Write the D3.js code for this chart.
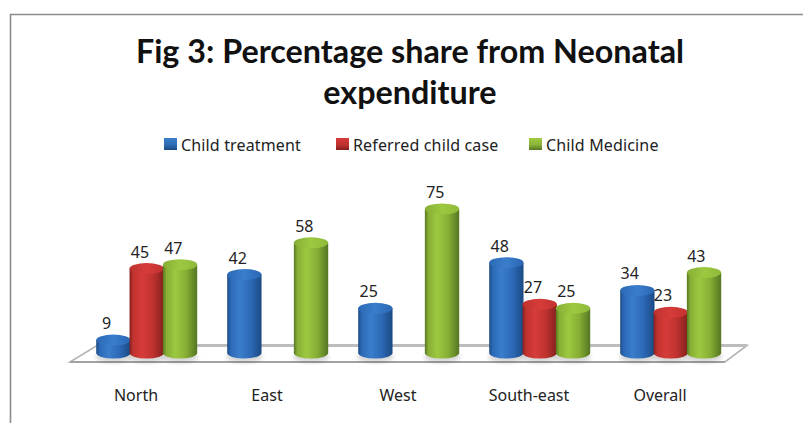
<!DOCTYPE html>
<html>
<head>
<meta charset="utf-8">
<script src="https://cdn.jsdelivr.net/npm/d3@7/dist/d3.min.js"></script>
<style>
html,body{margin:0;padding:0;background:#fff;}
svg{display:block;}
</style>
</head>
<body>
<svg id="chart" width="803" height="423"></svg>
<script>
const categories = ["North", "East", "West", "South-east", "Overall"];
const seriesNames = ["Child treatment", "Referred child case", "Child Medicine"];
const childTreatment = [9, 42, 25, 48, 34];
const referredChildCase = [45, null, null, 27, 23];
const childMedicine = [47, 58, 75, 25, 43];
const titleLines = ["Fig 3: Percentage share from Neonatal", "expenditure"];

const seriesValues = [childTreatment, referredChildCase, childMedicine];
const palette = [
  {dark:"#1b4a84", mid:"#3a7ecb", light:"#2c69b6", top:"#2a66b4", key:"#2e6db4"},
  {dark:"#84201e", mid:"#d63c39", light:"#bf322f", top:"#c2312f", key:"#c0322f"},
  {dark:"#557622", mid:"#9cc940", light:"#87ae35", top:"#8fb93a", key:"#8db53a"}
];

const svg = d3.select("#chart");
const defs = svg.append("defs");

palette.forEach((c, i) => {
  const body = defs.append("linearGradient").attr("id", "body" + i);
  [[0, c.dark], [0.1, c.light], [0.36, c.mid], [0.68, c.light], [1, c.dark]].forEach(([o, col]) =>
    body.append("stop").attr("offset", o).attr("stop-color", col));
  const lid = defs.append("linearGradient").attr("id", "lid" + i);
  [[0, c.light], [0.5, c.mid], [1, c.top]].forEach(([o, col]) =>
    lid.append("stop").attr("offset", o).attr("stop-color", col));
  const key = defs.append("linearGradient").attr("id", "key" + i).attr("x2", 0).attr("y2", 1);
  [[0, c.mid], [0.55, c.key], [1, c.dark]].forEach(([o, col]) =>
    key.append("stop").attr("offset", o).attr("stop-color", col));
});
defs.append("filter").attr("id", "soft").attr("x", "-30%").attr("y", "-100%")
  .attr("width", "160%").attr("height", "300%")
  .append("feGaussianBlur").attr("stdDeviation", 2.2);

// Chart frame, open on the right and bottom sides
svg.append("path")
  .attr("d", "M10.5,423V14.5H803")
  .attr("fill", "none").attr("stroke", "#8c8c8c").attr("stroke-width", 1.6);

// Title
svg.append("g").selectAll("text").data(titleLines).join("text")
  .attr("x", 410).attr("y", (d, i) => 62.5 + i * 41)
  .attr("text-anchor", "middle")
  .attr("font-family", "Lato, sans-serif").attr("font-weight", 700)
  .attr("font-size", 32.3).attr("fill", "#111")
  .text(d => d);

// Legend
const legendX = [164, 336, 529];
const legend = svg.append("g").selectAll("g").data(seriesNames).join("g")
  .attr("transform", (d, i) => `translate(${legendX[i]},138)`);
legend.append("rect").attr("width", 13).attr("height", 12)
  .attr("fill", (d, i) => `url(#key${i})`);
legend.append("text").attr("x", 17).attr("y", 12.5)
  .attr("font-family", "'Noto Sans', sans-serif").attr("font-size", 16)
  .attr("letter-spacing", 0.15)
  .attr("fill", "#222").text(d => d);

// Scales
const x0 = d3.scaleBand().domain(categories).range([81.2, 736.2]);
const x1 = d3.scaleBand().domain(d3.range(seriesNames.length)).range([x0.bandwidth() / 2 - 50, x0.bandwidth() / 2 + 50]);
const y = d3.scaleLinear().domain([0, 75]).range([358, 209]);
const rx = x1.bandwidth() / 2 + 0.5, ry = 5.5, baseDrop = 5;

// Floor of the 3D plot area
const floorPts = [[70, 362], [725, 362], [747, 345.5], [97, 345.5]];
svg.append("path")
  .attr("d", d3.line()(floorPts) + "Z")
  .attr("fill", "#fff").attr("stroke", "#b4b4b4").attr("stroke-width", 1.6);
svg.append("path")
  .attr("d", d3.line()([floorPts[3], floorPts[2]]))
  .attr("stroke", "#bdbdbd").attr("stroke-width", 3).attr("fill", "none");
svg.append("path")
  .attr("d", d3.line()([floorPts[0], floorPts[1]]))
  .attr("stroke", "#a2a2a2").attr("stroke-width", 2).attr("fill", "none");

// Cylinders, one group per category
const bars = categories.flatMap((c, ci) =>
  seriesValues.map((vals, si) => ({c, si, v: vals[ci]})).filter(d => d.v != null));

const gBars = svg.append("g");
const bar = gBars.selectAll("g").data(bars).join("g")
  .attr("transform", d => `translate(${x0(d.c) + x1(d.si) + x1.bandwidth() / 2},0)`);

bar.append("ellipse")
  .attr("cy", y(0) - 1).attr("rx", rx + 1).attr("ry", ry)
  .attr("fill", "#000").attr("opacity", 0.16).attr("filter", "url(#soft)");

bar.append("path")
  .attr("d", d => {
    const top = y(d.v), base = y(0) - baseDrop;
    return `M${-rx},${top}V${base}A${rx},${ry} 0 0 0 ${rx},${base}V${top}Z`;
  })
  .attr("fill", d => `url(#body${d.si})`);

bar.append("ellipse")
  .attr("cy", d => y(d.v)).attr("rx", rx).attr("ry", ry)
  .attr("fill", d => `url(#lid${d.si})`);

// Value labels sit up and to the left of their column
gBars.selectAll("text").data(bars).join("text")
  .attr("x", d => x0(d.c) + x1(d.si) + x1.bandwidth() / 2 - (d.c === "Overall" ? 7.7 : 6.7))
  .attr("y", d => y(d.v) - 11)
  .attr("text-anchor", "middle")
  .attr("font-family", "'Noto Sans', sans-serif").attr("font-size", 16)
  .attr("fill", "#222").text(d => d.v);

// Category labels
svg.append("g").selectAll("text").data(categories).join("text")
  .attr("x", d => x0(d) + x0.bandwidth() / 2 - 10.7)
  .attr("y", 400.5)
  .attr("text-anchor", "middle")
  .attr("font-family", "'Noto Sans', sans-serif").attr("font-size", 16)
  .attr("fill", "#222").text(d => d);
</script>
</body>
</html>
